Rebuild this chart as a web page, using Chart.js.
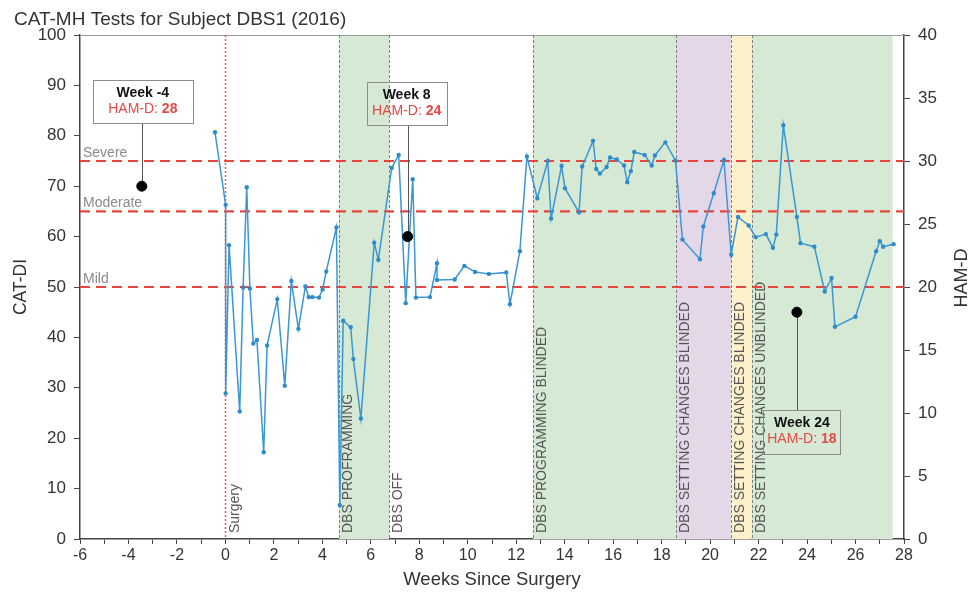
<!DOCTYPE html>
<html><head><meta charset="utf-8">
<script src="https://cdn.jsdelivr.net/npm/chart.js@4.4.0/dist/chart.umd.min.js"></script>
<style>html,body{margin:0;padding:0;background:#fff}canvas{display:block}</style>
</head><body>
<canvas id="c" width="973" height="596"></canvas>
<script>
// ---- data ----
const weeks = [-0.43, 0.01, 0.01, 0.15, 0.59, 0.73, 0.88, 1.01, 1.15, 1.30, 1.58, 1.72, 2.14, 2.45, 2.72, 3.01, 3.30, 3.44, 3.59, 3.86, 4.01, 4.16, 4.58, 4.72, 4.86, 5.17, 5.28, 5.59, 6.14, 6.31, 6.86, 7.15, 7.44, 7.73, 7.86, 8.44, 8.73, 8.73, 9.46, 9.86, 10.30, 10.87, 11.59, 11.74, 12.15, 12.44, 12.87, 13.30, 13.44, 13.87, 14.01, 14.59, 14.72, 15.17, 15.30, 15.45, 15.73, 15.87, 16.15, 16.45, 16.58, 16.73, 16.87, 17.30, 17.59, 17.72, 18.15, 18.57, 18.86, 19.58, 19.72, 20.15, 20.57, 20.87, 21.15, 21.59, 21.88, 22.30, 22.59, 22.73, 23.02, 23.58, 23.73, 24.30, 24.73, 25.01, 25.15, 26.00, 26.85, 27.00, 27.14, 27.57];
const catdi = [80.7, 66.3, 28.9, 58.3, 25.3, 49.9, 69.8, 49.7, 38.8, 39.5, 17.2, 38.4, 47.6, 30.4, 51.2, 41.7, 50.1, 48.0, 48.0, 47.9, 49.5, 53.1, 61.8, 6.7, 43.3, 42.0, 35.7, 23.9, 58.8, 55.4, 73.6, 76.2, 46.8, 71.4, 47.9, 48.0, 54.7, 51.4, 51.5, 54.2, 53.0, 52.6, 52.9, 46.6, 57.1, 75.9, 67.6, 75.0, 63.6, 74.0, 69.6, 64.8, 73.9, 79.0, 73.4, 72.5, 73.8, 75.7, 75.3, 74.1, 70.8, 73.0, 76.8, 76.2, 74.1, 76.1, 78.7, 75.1, 59.4, 55.5, 62.0, 68.6, 75.2, 56.4, 63.9, 62.2, 59.9, 60.5, 57.8, 60.4, 82.1, 63.9, 58.7, 58.0, 49.1, 51.8, 42.1, 44.1, 57.1, 59.1, 58.0, 58.5];

const xTicksMin = -6, xTicksMax = 28;
const yLeftMax = 100, yRightMax = 40;

const bandStarts = [4.68, 12.69, 18.59, 20.86, 21.71];
const bandEnds   = [6.75, 18.59, 20.86, 21.71, 27.53];
const bandColors = ['#d6e9d5', '#d6e9d5', '#e4d8e8', '#fdf1cc', '#d6e9d5'];

const eventWeeks  = [0, 4.68, 6.75, 12.69, 18.59, 20.86, 21.71];
const eventLabels = ['Surgery', 'DBS PROFRAMMING', 'DBS OFF', 'DBS PROGRAMMING BLINDED',
                     'DBS SETTING CHANGES BLINDED', 'DBS SETTING CHANGES BLINDED', 'DBS SETTING CHANGES UNBLINDED'];

const severityLevels = [75, 65, 50];
const severityLabels = ['Severe', 'Moderate', 'Mild'];

const hamdWeeks  = [-3.45, 7.52, 23.58];
const hamdScores = [28, 24, 18];
const hamdTitles = ['Week -4', 'Week 8', 'Week 24'];

// ---- layout of callout boxes (pixels) ----
const calloutLayout = [
  {dx: 1,  w: 100, h: 43, topFromArea: 45, below: false},
  {dx: -1, w: 80,  h: 43, topFromArea: 47, below: false},
  {dx: 5,  w: 77,  h: 44, belowGap: 98,   below: true}
];

const FONT = '"Liberation Sans", Arial, Helvetica, sans-serif';
Chart.defaults.font.family = FONT;
Chart.defaults.color = '#333';

const decor = {
  id: 'decor',
  beforeDatasetsDraw(chart) {
    const {ctx, chartArea: a, scales: {x, y, y2}} = chart;
    ctx.save();
    // bands
    bandStarts.forEach((s, i) => {
      const x0 = x.getPixelForValue(s), x1 = x.getPixelForValue(bandEnds[i]);
      ctx.fillStyle = bandColors[i];
      ctx.fillRect(x0, a.top, x1 - x0, a.bottom - a.top);
    });
    // top border
    ctx.strokeStyle = '#9a9a9a'; ctx.lineWidth = 1;
    ctx.beginPath(); ctx.moveTo(a.left, a.top + 0.5); ctx.lineTo(a.right, a.top + 0.5); ctx.stroke();
    // event lines
    eventWeeks.forEach((w, i) => {
      const px = Math.round(x.getPixelForValue(w)) + 0.5;
      ctx.beginPath();
      if (i === 0) { ctx.strokeStyle = '#de5a55'; ctx.setLineDash([2, 2]); ctx.lineWidth = 1.5; }
      else { ctx.strokeStyle = '#808080'; ctx.setLineDash([3, 2]); ctx.lineWidth = 1; }
      ctx.moveTo(px, a.top); ctx.lineTo(px, a.bottom); ctx.stroke();
    });
    ctx.setLineDash([]);
    // event labels
    ctx.font = '14px ' + FONT; ctx.fillStyle = '#555'; ctx.textAlign = 'left'; ctx.textBaseline = 'top';
    eventWeeks.forEach((w, i) => {
      const px = x.getPixelForValue(w);
      ctx.save(); ctx.translate(px + 2.5, a.bottom - 6); ctx.rotate(-Math.PI / 2);
      ctx.fillText(eventLabels[i], 0, 0); ctx.restore();
    });
    // severity lines
    ctx.strokeStyle = '#e8453c'; ctx.lineWidth = 2.2; ctx.setLineDash([10, 6]);
    severityLevels.forEach(v => {
      const py = y.getPixelForValue(v);
      ctx.beginPath(); ctx.moveTo(a.left, py); ctx.lineTo(a.right, py); ctx.stroke();
    });
    ctx.setLineDash([]);
    ctx.font = '14px ' + FONT; ctx.fillStyle = '#8a8a8a'; ctx.textBaseline = 'alphabetic'; ctx.textAlign = 'left';
    severityLevels.forEach((v, i) => {
      ctx.fillText(severityLabels[i], a.left + 3, y.getPixelForValue(v) - 4);
    });
    // callouts
    hamdWeeks.forEach((w, i) => {
      const L = calloutLayout[i];
      const dx = x.getPixelForValue(w), dy = y2.getPixelForValue(hamdScores[i]);
      const cx = dx + L.dx;
      const top = L.below ? dy + L.belowGap : a.top + L.topFromArea;
      const left = cx - L.w / 2;
      ctx.strokeStyle = '#555'; ctx.lineWidth = 1;
      ctx.beginPath();
      if (L.below) { ctx.moveTo(Math.round(dx) + 0.5, dy); ctx.lineTo(Math.round(dx) + 0.5, top); }
      else { ctx.moveTo(Math.round(dx) + 0.5, top + L.h); ctx.lineTo(Math.round(dx) + 0.5, dy); }
      ctx.stroke();
      ctx.strokeStyle = '#8c8c8c';
      ctx.strokeRect(Math.round(left) + 0.5, Math.round(top) + 0.5, L.w, L.h);
      ctx.textAlign = 'center'; ctx.textBaseline = 'alphabetic';
      ctx.font = 'bold 14px ' + FONT; ctx.fillStyle = '#111';
      ctx.fillText(hamdTitles[i], cx, top + 17);
      const p1 = 'HAM-D: ', p2 = String(hamdScores[i]);
      ctx.font = '14px ' + FONT; const w1 = ctx.measureText(p1).width;
      ctx.font = 'bold 14px ' + FONT; const w2 = ctx.measureText(p2).width;
      const sx = cx - (w1 + w2) / 2;
      ctx.textAlign = 'left'; ctx.fillStyle = '#e24a45';
      ctx.font = '14px ' + FONT; ctx.fillText(p1, sx, top + 33);
      ctx.font = 'bold 14px ' + FONT; ctx.fillText(p2, sx + w1, top + 33);
    });
    ctx.restore();
  },
  afterDraw(chart) {
    const {ctx, chartArea: a} = chart;
    ctx.save();
    ctx.fillStyle = '#333'; ctx.font = '19px ' + FONT; ctx.textAlign = 'left'; ctx.textBaseline = 'alphabetic';
    ctx.fillText('CAT-MH Tests for Subject DBS1 (2016)', 14, 25);
    ctx.translate(962, (a.top + a.bottom) / 2 - 9); ctx.rotate(-Math.PI / 2);
    ctx.textAlign = 'center'; ctx.textBaseline = 'middle'; ctx.font = '18px ' + FONT;
    ctx.fillText('HAM-D', 0, 0);
    ctx.restore();
  }
};

const axisColor = '#444';
new Chart(document.getElementById('c'), {
  data: {
    datasets: [
      {
        type: 'scatter', yAxisID: 'y2',
        data: hamdWeeks.map((w, i) => ({x: w, y: hamdScores[i]})),
        pointRadius: 5, pointBackgroundColor: '#000', pointBorderColor: '#000', showLine: false
      },
      {
        type: 'line', yAxisID: 'y',
        data: weeks.map((w, i) => ({x: w, y: catdi[i]})),
        borderColor: '#3a97d2', borderWidth: 1.5, pointRadius: 2.2, pointBackgroundColor: '#2f8ccb',
        pointBorderWidth: 0, tension: 0, fill: false
      }
    ]
  },
  options: {
    responsive: false, animation: false, devicePixelRatio: 1,
    layout: {padding: {top: 35, left: 0, right: 0, bottom: 0}},
    plugins: {legend: {display: false}, tooltip: {enabled: false}},
    scales: {
      x: {
        type: 'linear', position: 'bottom', min: xTicksMin, max: xTicksMax,
        ticks: {stepSize: 1, autoSkip: false, maxRotation: 0, padding: 2, font: {size: 16}, color: '#333',
          callback: v => (v % 2 === 0 ? String(v) : '')},
        grid: {drawOnChartArea: false, drawTicks: true, tickLength: 5, color: axisColor},
        border: {color: axisColor, width: 1.5},
        title: {display: true, text: 'Weeks Since Surgery', font: {size: 18.5}, color: '#333', padding: {top: 0, bottom: 5}},
        afterFit: s => { s.height = 57; }
      },
      y: {
        type: 'linear', position: 'left', min: 0, max: yLeftMax,
        ticks: {stepSize: 10, padding: 8, font: {size: 17}, color: '#333'},
        grid: {drawOnChartArea: false, drawTicks: true, tickLength: 6, color: axisColor},
        border: {color: axisColor, width: 1.5},
        title: {display: true, text: 'CAT-DI', font: {size: 17.5}, color: '#333', padding: {top: 11, bottom: 0}},
        afterFit: s => { s.width = 80; }
      },
      y2: {
        type: 'linear', position: 'right', min: 0, max: yRightMax,
        ticks: {stepSize: 5, padding: 8, font: {size: 17}, color: '#333'},
        grid: {drawOnChartArea: false, drawTicks: true, tickLength: 6, color: axisColor},
        border: {color: axisColor, width: 1.5},
        afterFit: s => { s.width = 69; }
      }
    }
  },
  plugins: [decor]
});
</script>
</body></html>
